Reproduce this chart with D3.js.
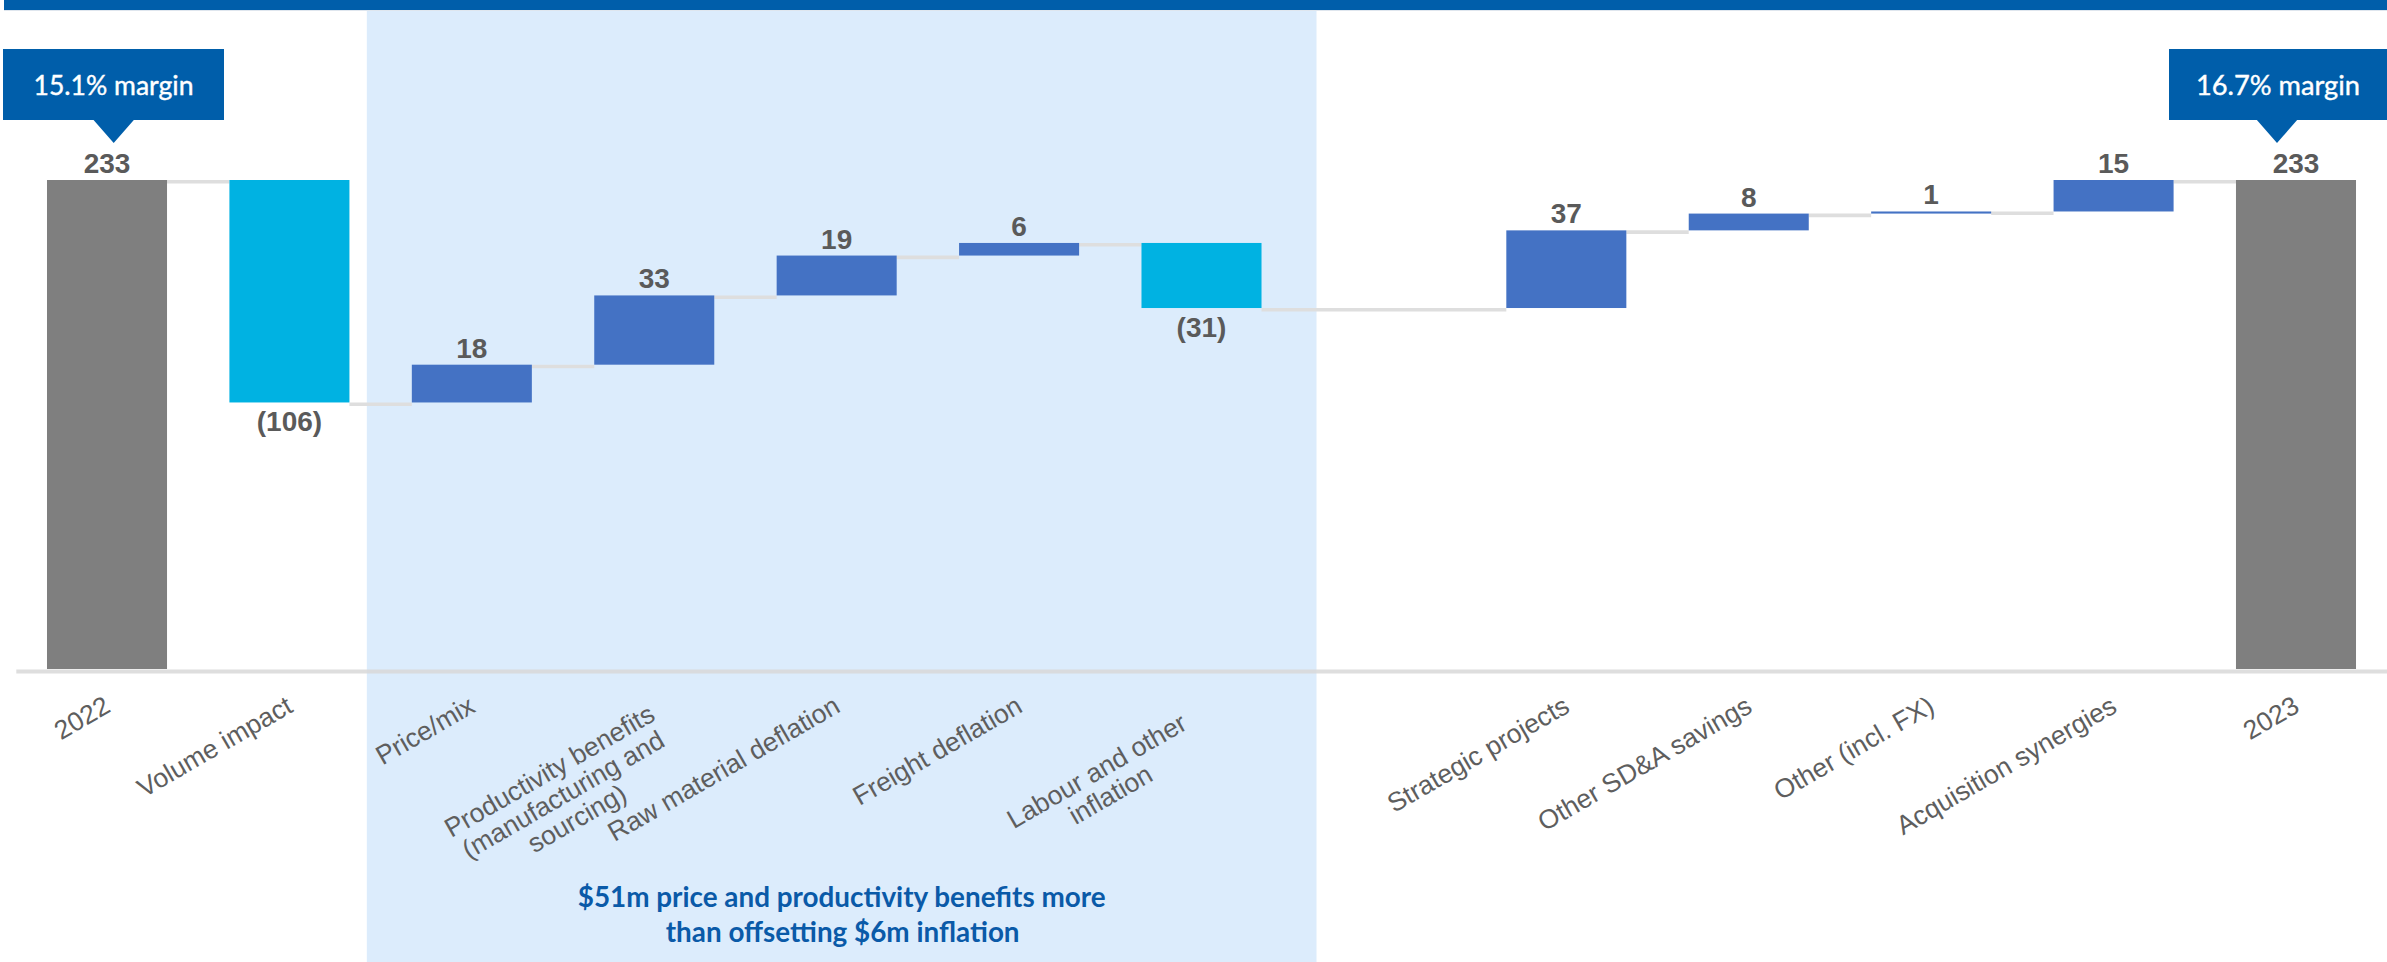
<!DOCTYPE html>
<html>
<head>
<meta charset="utf-8">
<script src="https://cdn.jsdelivr.net/npm/d3@7"></script>
<style>
  html, body { margin: 0; padding: 0; background: #ffffff; }
  svg { display: block; }
</style>
</head>
<body>
<svg id="chart" width="2387" height="962"></svg>
<script>
// ---------------- DATA ----------------
const categories = [
  "2022",
  "Volume impact",
  "Price/mix",
  "Productivity benefits\n(manufacturing and\nsourcing)",
  "Raw material deflation",
  "Freight deflation",
  "Labour and other\ninflation",
  "",
  "Strategic projects",
  "Other SD&A savings",
  "Other (incl. FX)",
  "Acquisition synergies",
  "2023"
];
const barTypes = ["total","delta","delta","delta","delta","delta","delta","gap","delta","delta","delta","delta","total"];
const values = [233, -106, 18, 33, 19, 6, -31, null, 37, 8, 1, 15, 233];
const valueLabels = ["233","(106)","18","33","19","6","(31)","","37","8","1","15","233"];
const marginLabels = ["15.1% margin", "16.7% margin"];
const noteLines = ["$51m price and productivity benefits more", "than offsetting $6m inflation"];

// ---------------- LAYOUT ----------------
const W = 2387, H = 962;
const axisY = 669;
const svg = d3.select("#chart");

const x = d3.scaleBand()
  .domain(d3.range(categories.length))
  .range([15.8, 2387.2])
  .paddingInner(0.342)
  .paddingOuter(0.171);
const bw = x.bandwidth();

const y = d3.scaleLinear().domain([0, 233]).range([axisY, 180]);

// waterfall computation
let running = 0;
const bars = categories.map((c, i) => {
  const t = barTypes[i];
  let start, end;
  if (t === "total") { start = 0; end = values[i]; running = values[i]; }
  else if (t === "delta") { start = running; end = running + values[i]; running = end; }
  else { start = running; end = running; }
  return { i, type: t, value: values[i], start, end, level: running, label: valueLabels[i] };
});

const colorFor = d => d.type === "total" ? "#7f7f7f" : (d.value >= 0 ? "#4472c4" : "#00b2e2");

// top band
svg.append("rect").attr("x", 4).attr("y", 0).attr("width", W - 4).attr("height", 10).attr("fill", "#005eaa");
svg.append("rect").attr("x", 4).attr("y", 10).attr("width", W - 4).attr("height", 1).attr("fill", "#dfe6ee");

// shaded region (Price/mix .. Labour)
const shadeX0 = x(2) - 45;
const shadeX1 = x(6) + bw + 55;
svg.append("rect")
  .attr("x", shadeX0).attr("y", 11)
  .attr("width", shadeX1 - shadeX0).attr("height", H - 11)
  .attr("fill", "#dcecfc");

// connectors
const real = bars.filter(d => d.type !== "gap");
const connectors = [];
for (let k = 0; k < real.length - 1; k++) {
  connectors.push({ x0: x(real[k].i) + bw, x1: x(real[k + 1].i), v: real[k].level });
}
svg.append("g").selectAll("line").data(connectors).join("line")
  .attr("x1", d => d.x0).attr("x2", d => d.x1)
  .attr("y1", d => y(d.v) + 1.8).attr("y2", d => y(d.v) + 1.8)
  .attr("stroke", "#dedede").attr("stroke-width", 3.6);

// axis
const axis = d3.axisBottom(x).tickSize(0).tickFormat(() => "");
const axisG = svg.append("g").attr("transform", `translate(0,${axisY + 2})`).call(axis);
axisG.select(".domain").attr("stroke", "#d8d8d8").attr("stroke-opacity", 0.85).attr("stroke-width", 4);

// category labels
axisG.selectAll(".tick").each(function(i) {
  const lines = categories[i].split("\n").filter(s => s.length);
  if (!lines.length) return;
  const g = d3.select(this).append("g")
    .attr("transform", "translate(5,40) rotate(-30)");
  if (lines.length === 1) {
    g.append("text").text(lines[0])
      .attr("text-anchor", "end")
      .attr("font-family", "'Liberation Sans', Arial, sans-serif")
      .attr("font-size", 26.5).attr("fill", "#5e5e5e");
  } else {
    lines.forEach((ln, k) => {
      g.append("text").text(ln)
        .attr("x", -125).attr("y", 6 + k * 27.5)
        .attr("text-anchor", "middle")
        .attr("font-family", "'Liberation Sans', Arial, sans-serif")
        .attr("font-size", 26.5).attr("fill", "#5e5e5e");
    });
  }
});

// bars
svg.append("g").selectAll("rect").data(bars.filter(d => d.type !== "gap")).join("rect")
  .attr("x", d => x(d.i))
  .attr("width", bw)
  .attr("y", d => y(Math.max(d.start, d.end)))
  .attr("height", d => Math.max(1.5, Math.abs(y(d.start) - y(d.end))))
  .attr("fill", colorFor);

// value labels
svg.append("g").selectAll("text").data(bars.filter(d => d.type !== "gap")).join("text")
  .attr("x", d => x(d.i) + bw / 2)
  .attr("y", d => (d.type === "delta" && d.value < 0) ? y(Math.min(d.start, d.end)) + 29 : y(Math.max(d.start, d.end)) - 7)
  .attr("text-anchor", "middle")
  .attr("font-family", "'Liberation Sans', Arial, sans-serif")
  .attr("font-weight", "bold")
  .attr("font-size", 28)
  .attr("fill", "#5a5a5a")
  .text(d => d.label);

// margin callouts
function fitText(sel, target) {
  const w = sel.node().getComputedTextLength();
  const fs = parseFloat(sel.attr("font-size"));
  sel.attr("font-size", fs * target / w);
}
const callouts = [
  { bx0: 3, bx1: 224, tip: x(0) + bw / 2 + 6.7, text: marginLabels[0], tw: 160 },
  { bx0: 2169, bx1: 2387, tip: x(12) + bw / 2 - 19, text: marginLabels[1], tw: 164 }
];
callouts.forEach(c => {
  const g = svg.append("g");
  g.append("rect").attr("x", c.bx0).attr("y", 49).attr("width", c.bx1 - c.bx0).attr("height", 71).attr("fill", "#005eaa");
  g.append("path")
    .attr("d", `M${c.tip - 21},119 L${c.tip + 21},119 L${c.tip},143 Z`)
    .attr("fill", "#005eaa");
  const t = g.append("text")
    .attr("x", (c.bx0 + c.bx1) / 2).attr("y", 95)
    .attr("text-anchor", "middle")
    .attr("font-family", "Lato, 'Open Sans', sans-serif")
    .attr("font-size", 28).attr("fill", "#ffffff")
    .attr("stroke", "#ffffff").attr("stroke-width", 0.4)
    .text(c.text);
  fitText(t, c.tw);
});

// bottom note
const noteX = (shadeX0 + shadeX1) / 2;
const n1 = svg.append("text").attr("x", noteX).attr("y", 907)
  .attr("text-anchor", "middle")
  .attr("font-family", "Lato, 'Open Sans', sans-serif")
  .attr("font-weight", "bold").attr("font-size", 26).attr("fill", "#0a5aa8")
  .text(noteLines[0]);
const w1 = n1.node().getComputedTextLength();
const fsNote = 26 * 528 / w1;
n1.attr("font-size", fsNote);
svg.append("text").attr("x", noteX + 1).attr("y", 942)
  .attr("text-anchor", "middle")
  .attr("font-family", "Lato, 'Open Sans', sans-serif")
  .attr("font-weight", "bold").attr("font-size", fsNote).attr("fill", "#0a5aa8")
  .text(noteLines[1]);
</script>
</body>
</html>
